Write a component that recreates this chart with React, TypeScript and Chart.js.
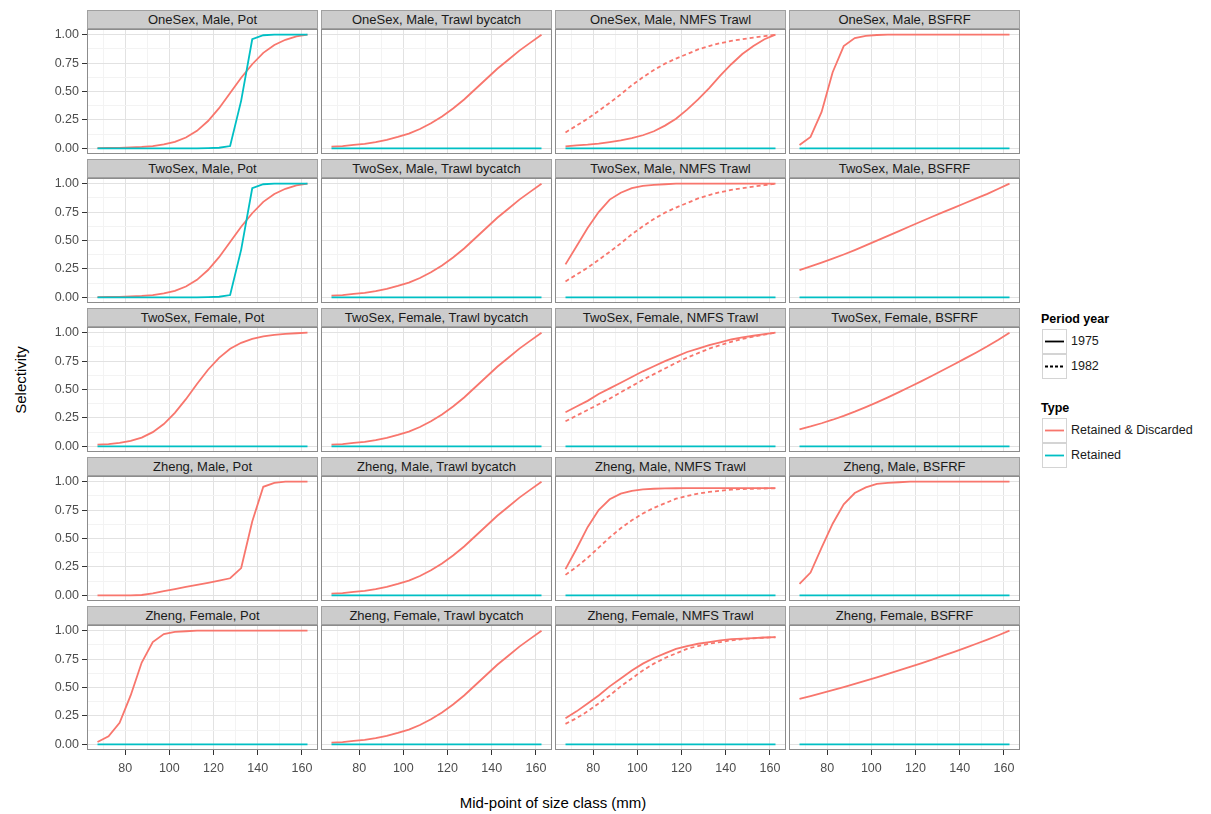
import { useEffect, useRef } from 'react';
import { Chart, registerables } from 'chart.js';
import type { ChartConfiguration, Plugin } from 'chart.js';

Chart.register(...registerables);

const FONT = '"Liberation Sans", Arial, Helvetica, sans-serif';
const RED = '#F8766D';
const TEAL = '#00BFC4';

// mid-points of size classes (mm)
const sizeClasses = [67.5, 72.5, 77.5, 82.5, 87.5, 92.5, 97.5, 102.5, 107.5, 112.5, 117.5, 122.5, 127.5, 132.5, 137.5, 142.5, 147.5, 152.5, 157.5, 162.5];

// selectivity curves
const zeroRetained = [0, 0, 0, 0, 0, 0, 0, 0, 0, 0, 0, 0, 0, 0, 0, 0, 0, 0, 0, 0];
const potMaleRD = [0.002, 0.003, 0.004, 0.007, 0.012, 0.02, 0.034, 0.057, 0.095, 0.154, 0.24, 0.353, 0.486, 0.621, 0.74, 0.84, 0.91, 0.955, 0.985, 1.0];
const potMaleRetained = [0, 0, 0, 0, 0, 0, 0, 0, 0, 0, 0.002, 0.005, 0.02, 0.42, 0.96, 0.995, 1, 1, 1, 1];
const trawlBycatch = [0.015, 0.02, 0.03, 0.04, 0.055, 0.075, 0.1, 0.13, 0.17, 0.22, 0.28, 0.35, 0.43, 0.52, 0.61, 0.7, 0.78, 0.86, 0.93, 1.0];
const nmfsOneSexMale1975 = [0.018, 0.025, 0.032, 0.042, 0.055, 0.07, 0.09, 0.115, 0.15, 0.2, 0.26, 0.34, 0.43, 0.53, 0.64, 0.74, 0.83, 0.9, 0.96, 1.0];
const nmfsMale1982 = [0.14, 0.2, 0.26, 0.33, 0.4, 0.475, 0.555, 0.625, 0.69, 0.745, 0.79, 0.83, 0.87, 0.9, 0.925, 0.945, 0.96, 0.975, 0.987, 1.0];
const nmfsTwoSexMale1975 = [0.29, 0.45, 0.61, 0.75, 0.86, 0.92, 0.96, 0.98, 0.99, 0.995, 1, 1, 1, 1, 1, 1, 1, 1, 1, 1];
const bsfrfOneSexMale = [0.03, 0.1, 0.32, 0.67, 0.9, 0.97, 0.99, 0.997, 1, 1, 1, 1, 1, 1, 1, 1, 1, 1, 1, 1];
const bsfrfTwoSexMale = [0.24, 0.272, 0.305, 0.34, 0.377, 0.416, 0.457, 0.499, 0.541, 0.583, 0.625, 0.667, 0.709, 0.75, 0.79, 0.83, 0.87, 0.91, 0.955, 1.0];
const potTwoSexFemale = [0.015, 0.02, 0.03, 0.047, 0.077, 0.125, 0.196, 0.294, 0.415, 0.548, 0.674, 0.779, 0.858, 0.911, 0.946, 0.968, 0.981, 0.989, 0.995, 1.0];
const nmfsTwoSexFemale1975 = [0.3, 0.35, 0.4, 0.46, 0.51, 0.56, 0.61, 0.66, 0.705, 0.75, 0.79, 0.83, 0.86, 0.89, 0.915, 0.94, 0.958, 0.973, 0.987, 1.0];
const nmfsTwoSexFemale1982 = [0.22, 0.27, 0.32, 0.37, 0.42, 0.475, 0.53, 0.585, 0.635, 0.685, 0.735, 0.78, 0.82, 0.86, 0.89, 0.92, 0.945, 0.965, 0.983, 1.0];
const bsfrfTwoSexFemale = [0.15, 0.175, 0.203, 0.234, 0.268, 0.305, 0.345, 0.387, 0.431, 0.477, 0.524, 0.572, 0.621, 0.671, 0.722, 0.774, 0.826, 0.88, 0.938, 1.0];
const potZhengMale = [0, 0, 0, 0, 0.003, 0.017, 0.036, 0.055, 0.074, 0.092, 0.11, 0.13, 0.15, 0.24, 0.65, 0.955, 0.99, 1, 1, 1];
const nmfsZhengMale1975 = [0.23, 0.41, 0.6, 0.75, 0.845, 0.895, 0.92, 0.932, 0.938, 0.941, 0.942, 0.943, 0.943, 0.943, 0.943, 0.943, 0.943, 0.943, 0.943, 0.943];
const nmfsZhengMale1982 = [0.18, 0.25, 0.33, 0.42, 0.51, 0.59, 0.66, 0.72, 0.77, 0.81, 0.85, 0.875, 0.895, 0.91, 0.92, 0.93, 0.935, 0.938, 0.94, 0.942];
const bsfrfZhengMale = [0.1, 0.2, 0.42, 0.63, 0.8, 0.9, 0.95, 0.98, 0.99, 0.995, 1, 1, 1, 1, 1, 1, 1, 1, 1, 1];
const potZhengFemale = [0.02, 0.07, 0.19, 0.43, 0.72, 0.9, 0.97, 0.99, 0.995, 1, 1, 1, 1, 1, 1, 1, 1, 1, 1, 1];
const nmfsZhengFemale1975 = [0.23, 0.29, 0.36, 0.43, 0.51, 0.58, 0.65, 0.71, 0.76, 0.8, 0.84, 0.865, 0.885, 0.9, 0.915, 0.925, 0.93, 0.935, 0.94, 0.943];
const nmfsZhengFemale1982 = [0.18, 0.23, 0.29, 0.36, 0.43, 0.51, 0.58, 0.65, 0.71, 0.76, 0.8, 0.84, 0.865, 0.885, 0.9, 0.915, 0.925, 0.933, 0.938, 0.942];
const bsfrfZhengFemale = [0.4, 0.425, 0.45, 0.476, 0.503, 0.531, 0.56, 0.589, 0.619, 0.65, 0.681, 0.713, 0.746, 0.78, 0.814, 0.849, 0.885, 0.922, 0.96, 1.0];

const rowLabels = ['OneSex, Male', 'TwoSex, Male', 'TwoSex, Female', 'Zheng, Male', 'Zheng, Female'];
const fleetLabels = ['Pot', 'Trawl bycatch', 'NMFS Trawl', 'BSFRF'];

interface PanelSeries {
  rd: number[];
  rd82?: number[];
  ret?: number[];
}

const panelSeries: PanelSeries[][] = [
  [
    { rd: potMaleRD, ret: potMaleRetained },
    { rd: trawlBycatch, ret: zeroRetained },
    { rd: nmfsOneSexMale1975, rd82: nmfsMale1982, ret: zeroRetained },
    { rd: bsfrfOneSexMale, ret: zeroRetained },
  ],
  [
    { rd: potMaleRD, ret: potMaleRetained },
    { rd: trawlBycatch, ret: zeroRetained },
    { rd: nmfsTwoSexMale1975, rd82: nmfsMale1982, ret: zeroRetained },
    { rd: bsfrfTwoSexMale, ret: zeroRetained },
  ],
  [
    { rd: potTwoSexFemale, ret: zeroRetained },
    { rd: trawlBycatch, ret: zeroRetained },
    { rd: nmfsTwoSexFemale1975, rd82: nmfsTwoSexFemale1982, ret: zeroRetained },
    { rd: bsfrfTwoSexFemale, ret: zeroRetained },
  ],
  [
    { rd: potZhengMale },
    { rd: trawlBycatch, ret: zeroRetained },
    { rd: nmfsZhengMale1975, rd82: nmfsZhengMale1982, ret: zeroRetained },
    { rd: bsfrfZhengMale, ret: zeroRetained },
  ],
  [
    { rd: potZhengFemale, ret: zeroRetained },
    { rd: trawlBycatch, ret: zeroRetained },
    { rd: nmfsZhengFemale1975, rd82: nmfsZhengFemale1982, ret: zeroRetained },
    { rd: bsfrfZhengFemale, ret: zeroRetained },
  ],
];

// layout of the facet grid
const colLeft = [87, 321, 555, 789];
const rowTop = [10, 159, 308, 457, 606];
const PLOT_W = 231;
const PLOT_H = 125;
const STRIP_H = 19;
const Y_AXIS_W = 50;
const X_AXIS_H = 30;
const PAD_TOP = 8;

const isMajorX = (v: number) => Math.abs(v % 20) < 1e-6;
const isMajorY = (v: number) => Math.abs(v * 4 - Math.round(v * 4)) < 1e-6;

const panelBorder: Plugin<'line'> = {
  id: 'panelBorder',
  afterDraw(chart) {
    const { ctx, chartArea: a } = chart;
    ctx.save();
    ctx.strokeStyle = '#8c8c8c';
    ctx.lineWidth = 1;
    ctx.strokeRect(a.left + 0.5, a.top + 0.5, a.right - a.left - 1, a.bottom - a.top - 1);
    ctx.restore();
  },
};

const toPoints = (values: number[]) => sizeClasses.map((x, i) => ({ x, y: values[i] }));

function Panel({ row, col }: { row: number; col: number }) {
  const canvasRef = useRef<HTMLCanvasElement>(null);
  const chartRef = useRef<Chart<'line'> | null>(null);
  const left = col === 0;
  const bottom = row === rowLabels.length - 1;
  const width = PLOT_W + (left ? Y_AXIS_W : 0);
  const height = PLOT_H + PAD_TOP + (bottom ? X_AXIS_H : 0);
  const series = panelSeries[row][col];

  useEffect(() => {
    if (!canvasRef.current) return;
    if (chartRef.current) chartRef.current.destroy();

    const datasets: any[] = [];
    if (series.ret) {
      datasets.push({ data: toPoints(series.ret), borderColor: TEAL, borderWidth: 1.8, pointRadius: 0, tension: 0 });
    }
    if (series.rd82) {
      datasets.push({ data: toPoints(series.rd82), borderColor: RED, borderWidth: 1.8, borderDash: [4, 3], pointRadius: 0, tension: 0 });
    }
    datasets.push({ data: toPoints(series.rd), borderColor: RED, borderWidth: 1.8, pointRadius: 0, tension: 0 });

    const config: ChartConfiguration<'line'> = {
      type: 'line',
      data: { datasets },
      options: {
        responsive: false,
        animation: false,
        events: [],
        layout: { padding: { top: PAD_TOP, left: 0, right: 0, bottom: 0 } },
        plugins: { legend: { display: false }, tooltip: { enabled: false } },
        scales: {
          x: {
            type: 'linear',
            min: 62.75,
            max: 167.25,
            border: { display: false },
            grid: {
              color: (c: any) => (isMajorX(c.tick.value) ? '#e2e2e2' : '#f3f3f3'),
              lineWidth: 1,
              drawTicks: bottom,
              tickLength: 5,
              tickColor: (c: any) => (isMajorX(c.tick.value) ? '#333333' : 'rgba(0,0,0,0)'),
            },
            ticks: {
              display: bottom,
              stepSize: 10,
              includeBounds: false,
              autoSkip: false,
              maxRotation: 0,
              padding: 6,
              color: '#4d4d4d',
              font: { family: FONT, size: 12.5 },
              callback: (v: any) => (isMajorX(Number(v)) ? String(v) : ''),
            },
            afterFit: (s: any) => {
              s.height = bottom ? X_AXIS_H : 0;
              s.paddingLeft = 0;
              s.paddingRight = 0;
            },
          },
          y: {
            type: 'linear',
            min: -0.05,
            max: 1.05,
            border: { display: false },
            grid: {
              color: (c: any) => (isMajorY(c.tick.value) ? '#e2e2e2' : '#f3f3f3'),
              lineWidth: 1,
              drawTicks: left,
              tickLength: 5,
              tickColor: (c: any) => (isMajorY(c.tick.value) ? '#333333' : 'rgba(0,0,0,0)'),
            },
            ticks: {
              display: left,
              stepSize: 0.125,
              includeBounds: false,
              autoSkip: false,
              padding: 3,
              color: '#4d4d4d',
              font: { family: FONT, size: 12.5 },
              callback: (v: any) => (isMajorY(Number(v)) ? Number(v).toFixed(2) : ''),
            },
            afterFit: (s: any) => {
              s.width = left ? Y_AXIS_W : 0;
              s.paddingTop = 0;
              s.paddingBottom = 0;
            },
          },
        },
      },
      plugins: [panelBorder],
    };

    chartRef.current = new Chart(canvasRef.current, config);
    return () => {
      if (chartRef.current) {
        chartRef.current.destroy();
        chartRef.current = null;
      }
    };
  }, [row, col]);

  const plotTop = rowTop[row] + STRIP_H;
  return (
    <>
      <canvas
        ref={canvasRef}
        width={width}
        height={height}
        style={{
          position: 'absolute',
          left: colLeft[col] - (left ? Y_AXIS_W : 0),
          top: plotTop - PAD_TOP,
          width,
          height,
        }}
      />
      <div
        style={{
          position: 'absolute',
          left: colLeft[col],
          top: rowTop[row],
          width: PLOT_W,
          height: STRIP_H,
          boxSizing: 'border-box',
          background: '#cccccc',
          border: '1px solid #a0a0a0',
          fontFamily: FONT,
          fontSize: 13,
          lineHeight: `${STRIP_H - 2}px`,
          textAlign: 'center',
          color: '#1a1a1a',
        }}
      >
        {rowLabels[row]}, {fleetLabels[col]}
      </div>
    </>
  );
}

function Key({ top, color, dotted }: { top: number; color: string; dotted?: boolean }) {
  return (
    <div
      style={{
        position: 'absolute',
        left: 1042,
        top,
        width: 25,
        height: 25,
        boxSizing: 'border-box',
        border: '1px solid #d4d4d4',
        background: '#ffffff',
      }}
    >
      <svg width={23} height={23} style={{ position: 'absolute', left: 0, top: 0 }}>
        <line x1={2} y1={11.5} x2={21} y2={11.5} stroke={color} strokeWidth={1.8} strokeDasharray={dotted ? '3,2' : undefined} />
      </svg>
    </div>
  );
}

const legendText = {
  position: 'absolute' as const,
  left: 1071,
  fontFamily: FONT,
  fontSize: 12.5,
  color: '#1a1a1a',
  lineHeight: '25px',
  whiteSpace: 'nowrap' as const,
};

const legendTitle = {
  position: 'absolute' as const,
  left: 1041,
  fontFamily: FONT,
  fontSize: 12.5,
  fontWeight: 700,
  color: '#000000',
  whiteSpace: 'nowrap' as const,
};

export default function App() {
  return (
    <div style={{ position: 'absolute', left: 0, top: 0, width: 1211, height: 814, background: '#ffffff', overflow: 'hidden' }}>
      {rowLabels.map((_, r) => fleetLabels.map((__, c) => <Panel key={`${r}-${c}`} row={r} col={c} />))}

      <div
        style={{
          position: 'absolute',
          left: 20,
          top: 380,
          transform: 'translate(-50%, -50%) rotate(-90deg)',
          fontFamily: FONT,
          fontSize: 15,
          color: '#000000',
          whiteSpace: 'nowrap',
        }}
      >
        Selectivity
      </div>
      <div
        style={{
          position: 'absolute',
          left: 553,
          top: 802,
          transform: 'translate(-50%, -50%)',
          fontFamily: FONT,
          fontSize: 15,
          color: '#000000',
          whiteSpace: 'nowrap',
        }}
      >
        Mid-point of size class (mm)
      </div>

      <div style={{ ...legendTitle, top: 312 }}>Period year</div>
      <Key top={329} color="#000000" />
      <div style={{ ...legendText, top: 329 }}>1975</div>
      <Key top={354} color="#000000" dotted />
      <div style={{ ...legendText, top: 354 }}>1982</div>

      <div style={{ ...legendTitle, top: 401 }}>Type</div>
      <Key top={418} color={RED} />
      <div style={{ ...legendText, top: 418 }}>Retained &amp; Discarded</div>
      <Key top={443} color={TEAL} />
      <div style={{ ...legendText, top: 443 }}>Retained</div>
    </div>
  );
}
